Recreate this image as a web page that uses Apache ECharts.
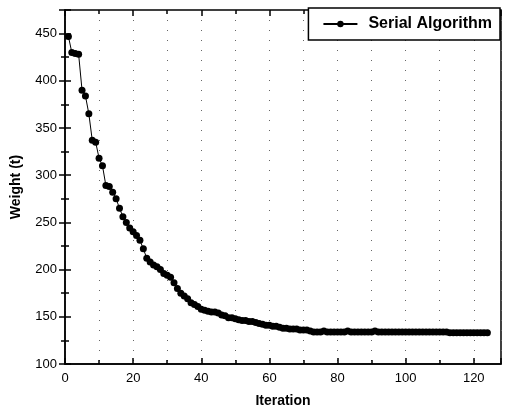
<!DOCTYPE html>
<html><head><meta charset="utf-8">
<script src="https://cdn.jsdelivr.net/npm/echarts@6/dist/echarts.min.js"></script>
<style>html,body{margin:0;padding:0;background:#fff}#c{width:507px;height:414px}</style>
</head><body><div id="c"></div>
<script>
var seriesName = 'Serial Algorithm';
var iterations = [];
for (var i = 1; i <= 124; i++) iterations.push(i);
var weights = [
 447,430,429,428,390,384,365,337,335,318,
 310,289,288,282,275,265,256,250,244,240,
 236,231,222,212,208,205,203,200,196,194,
 192,186,180,175,172,169,165,163,161,158,
 157,156,155,155,154,152,151,149,149,148,
 147,146,146,145,145,144,143,142,141,141,
 140,140,139,138,138,137,137,137,136,136,
 136,135,134,134,134,135,134,134,134,134,
 134,134,135,134,134,134,134,134,134,134,
 135,134,134,134,134,134,134,134,134,134,
 134,134,134,134,134,134,134,134,134,134,
 134,134,133,133,133,133,133,133,133,133,
 133,133,133,133
];
var xTicks = [0,20,40,60,80,100,120];
var yTicks = [100,150,200,250,300,350,400,450];
var data = iterations.map(function(x,k){return [x, weights[k]];});
var font = 'Liberation Sans, Arial, sans-serif';
var chart = echarts.init(document.getElementById('c'));
var dotted = {show:true, lineStyle:{color:'#666', type:[1,9], width:1}};
chart.setOption({
  animation:false,
  grid:{left:65, right:6, top:10, bottom:50, show:true, borderColor:'#000', borderWidth:1.5},
  legend:{
    right:7, top:8, itemWidth:34, itemHeight:8, itemGap:8, padding:[8,8,8,14],
    borderColor:'#000', borderWidth:1.5, backgroundColor:'#fff',
    textStyle:{fontFamily:font, fontWeight:'bold', fontSize:16, color:'#000', padding:[0,0,0,6]},
    data:[seriesName]
  },
  xAxis:[{
    type:'value', min:0, max:128, interval:20,
    name:'Iteration', nameLocation:'middle', nameGap:30,
    nameTextStyle:{fontFamily:font, fontWeight:'bold', fontSize:14, color:'#000'},
    axisLine:{lineStyle:{color:'#000', width:1.5}},
    axisTick:{inside:true, length:6, lineStyle:{color:'#000', width:1.5}},
    minorTick:{show:true, splitNumber:2, length:4, lineStyle:{color:'#000', width:1.5}},
    axisLabel:{fontFamily:font, fontSize:13, color:'#000', showMaxLabel:false, margin:8},
    splitLine:dotted, minorSplitLine:dotted
  },{
    type:'value', position:'top', min:0, max:128, interval:20,
    axisLine:{show:false},
    axisTick:{inside:true, length:6, lineStyle:{color:'#000', width:1.5}},
    minorTick:{show:true, splitNumber:2, length:4, lineStyle:{color:'#000', width:1.5}},
    axisLabel:{show:false}, splitLine:{show:false}
  }],
  yAxis:[{
    type:'value', min:100, max:475, interval:50,
    name:'Weight (t)', nameLocation:'middle', nameGap:42,
    nameTextStyle:{fontFamily:font, fontWeight:'bold', fontSize:14, color:'#000'},
    axisLine:{show:true, lineStyle:{color:'#000', width:1.5}},
    axisTick:{show:true, inside:true, length:6, lineStyle:{color:'#000', width:1.5}},
    minorTick:{show:true, splitNumber:2, length:4, lineStyle:{color:'#000', width:1.5}},
    axisLabel:{fontFamily:font, fontSize:13, color:'#000', showMaxLabel:false, margin:8},
    splitLine:{show:false}
  },{
    type:'value', position:'right', min:100, max:475, interval:50,
    axisLine:{show:false},
    axisTick:{show:true, inside:true, length:6, lineStyle:{color:'#000', width:1.5}},
    minorTick:{show:true, splitNumber:2, length:4, lineStyle:{color:'#000', width:1.5}},
    axisLabel:{show:false}, splitLine:{show:false}
  }],
  series:[{
    name:seriesName, type:'line', data:data,
    symbol:'circle', symbolSize:7,
    itemStyle:{color:'#000'},
    lineStyle:{color:'#000', width:1}
  }]
});
</script></body></html>
